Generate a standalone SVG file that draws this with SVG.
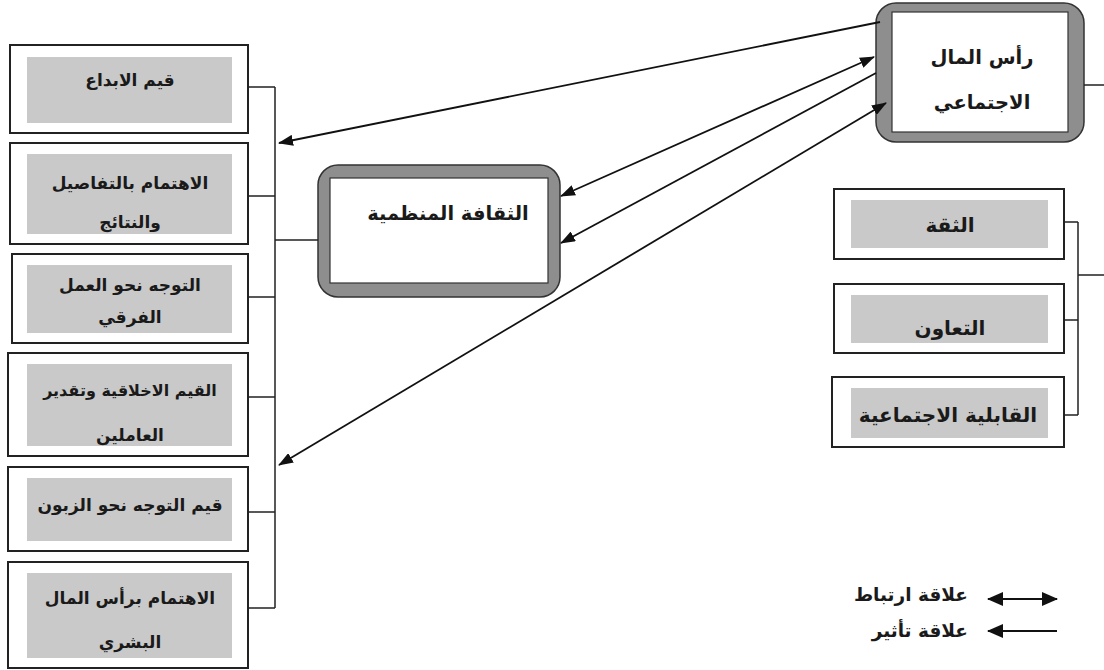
<svg xmlns="http://www.w3.org/2000/svg" width="1104" height="670" viewBox="0 0 1104 670">
<style>
.box{fill:#fff;stroke:#222;stroke-width:2}
.fill{fill:#c9c9c9;stroke:none}
.rb{fill:#8e8e8e;stroke:#333;stroke-width:1.5}
.ri{fill:#fff;stroke:#333;stroke-width:1.2}
.t{font-family:"DejaVu Sans","Liberation Sans",sans-serif;font-weight:bold;font-size:17px;fill:#1a1a1a;text-anchor:middle}
.tr{font-family:"DejaVu Sans","Liberation Sans",sans-serif;font-weight:bold;font-size:20px;fill:#1a1a1a;text-anchor:middle}
.tb{font-family:"DejaVu Sans","Liberation Sans",sans-serif;font-weight:bold;font-size:19.5px;fill:#1a1a1a;text-anchor:middle}
.lg{font-family:"DejaVu Sans","Liberation Sans",sans-serif;font-weight:bold;font-size:18.5px;fill:#1a1a1a;text-anchor:end}
.ln{fill:none;stroke:#111;stroke-width:1.8}
.br{fill:none;stroke:#222;stroke-width:1.5}
</style>
<defs>
<marker id="ah" markerUnits="userSpaceOnUse" markerWidth="15" markerHeight="11" refX="14" refY="5.5" orient="auto-start-reverse" viewBox="0 0 15 11">
<path d="M0,0 L15,5.5 L0,11 z" fill="#111"/>
</marker>
<marker id="ahl" markerUnits="userSpaceOnUse" markerWidth="16" markerHeight="14" refX="15" refY="7" orient="auto-start-reverse" viewBox="0 0 16 14">
<path d="M0,0 L16,7 L0,14 z" fill="#111"/>
</marker>
</defs>
<rect width="1104" height="670" fill="#fff"/>

<g id="left-1"><rect class="box" x="10" y="45" width="238" height="88"/><rect class="fill" x="27" y="57" width="205" height="66"/><text class="t" x="130" y="86">قيم الابداع</text></g>
<g id="left-2"><rect class="box" x="10" y="143" width="238" height="101"/><rect class="fill" x="27" y="154" width="205" height="80"/><text class="t" x="130" y="189">الاهتمام بالتفاصيل</text><text class="t" x="130" y="228">والنتائج</text></g>
<g id="left-3"><rect class="box" x="12" y="254" width="236" height="89"/><rect class="fill" x="27" y="265" width="205" height="68"/><text class="t" x="130" y="291">التوجه نحو العمل</text><text class="t" x="130" y="323">الفرقي</text></g>
<g id="left-4"><rect class="box" x="8" y="353" width="240" height="103"/><rect class="fill" x="27" y="364" width="205" height="82"/><text class="t" x="130" y="396" style="font-size:16px">القيم الاخلاقية وتقدير</text><text class="t" x="130" y="441">العاملين</text></g>
<g id="left-5"><rect class="box" x="8" y="467" width="240" height="84"/><rect class="fill" x="27" y="478" width="205" height="63"/><text class="t" x="130" y="511">قيم التوجه نحو الزبون</text></g>
<g id="left-6"><rect class="box" x="8" y="562" width="240" height="106"/><rect class="fill" x="27" y="573" width="205" height="85"/><text class="t" x="130" y="604">الاهتمام برأس المال</text><text class="t" x="130" y="648">البشري</text></g>

<g id="org-culture"><rect class="rb" x="318" y="165" width="242" height="132" rx="20"/><rect class="ri" x="330" y="178" width="218" height="105"/><text class="tb" x="448" y="220">الثقافة المنظمية</text></g>

<g id="social-capital"><rect class="rb" x="876" y="3" width="208" height="139" rx="20"/><rect class="ri" x="892" y="12" width="176" height="120"/><text class="tb" x="982" y="64">رأس المال</text><text class="tb" x="982" y="109">الاجتماعي</text></g>

<g id="right-1"><rect class="box" x="834" y="189" width="230" height="70"/><rect class="fill" x="851" y="200" width="197" height="48"/><text class="tr" x="950" y="232">الثقة</text></g>
<g id="right-2"><rect class="box" x="834" y="284" width="230" height="69"/><rect class="fill" x="851" y="295" width="197" height="48"/><text class="tr" x="950" y="335">التعاون</text></g>
<g id="right-3"><rect class="box" x="832" y="377" width="232" height="70"/><rect class="fill" x="851" y="388" width="197" height="50"/><text class="tr" x="948" y="422">القابلية الاجتماعية</text></g>

<g id="connectors">
<path class="br" d="M248,87 H275 M248,196 H275 M248,297 H275 M248,397 H275 M248,512 H275 M248,608 H275 M275,87 V608 M275,240 H318"/>
<path class="br" d="M1064,222 H1078 M1064,320 H1078 M1064,415 H1078 M1078,222 V415 M1078,275 H1104 M1084,85 H1104"/>
<line class="ln" x1="880" y1="22" x2="279" y2="143" marker-end="url(#ah)"/>
<line class="ln" x1="561" y1="196" x2="874" y2="57" marker-start="url(#ah)" marker-end="url(#ah)"/>
<line class="ln" x1="876" y1="73" x2="561" y2="243" marker-end="url(#ah)"/>
<line class="ln" x1="886" y1="103" x2="279" y2="465" marker-start="url(#ah)" marker-end="url(#ah)"/>
</g>

<g id="legend">
<line class="ln" x1="988" y1="599" x2="1057" y2="599" marker-start="url(#ahl)" marker-end="url(#ahl)"/>
<line class="ln" x1="1057" y1="631" x2="988" y2="631" marker-end="url(#ahl)"/>
<text class="lg" x="968" y="601">علاقة ارتباط</text>
<text class="lg" x="968" y="637">علاقة تأثير</text>
</g>
</svg>
